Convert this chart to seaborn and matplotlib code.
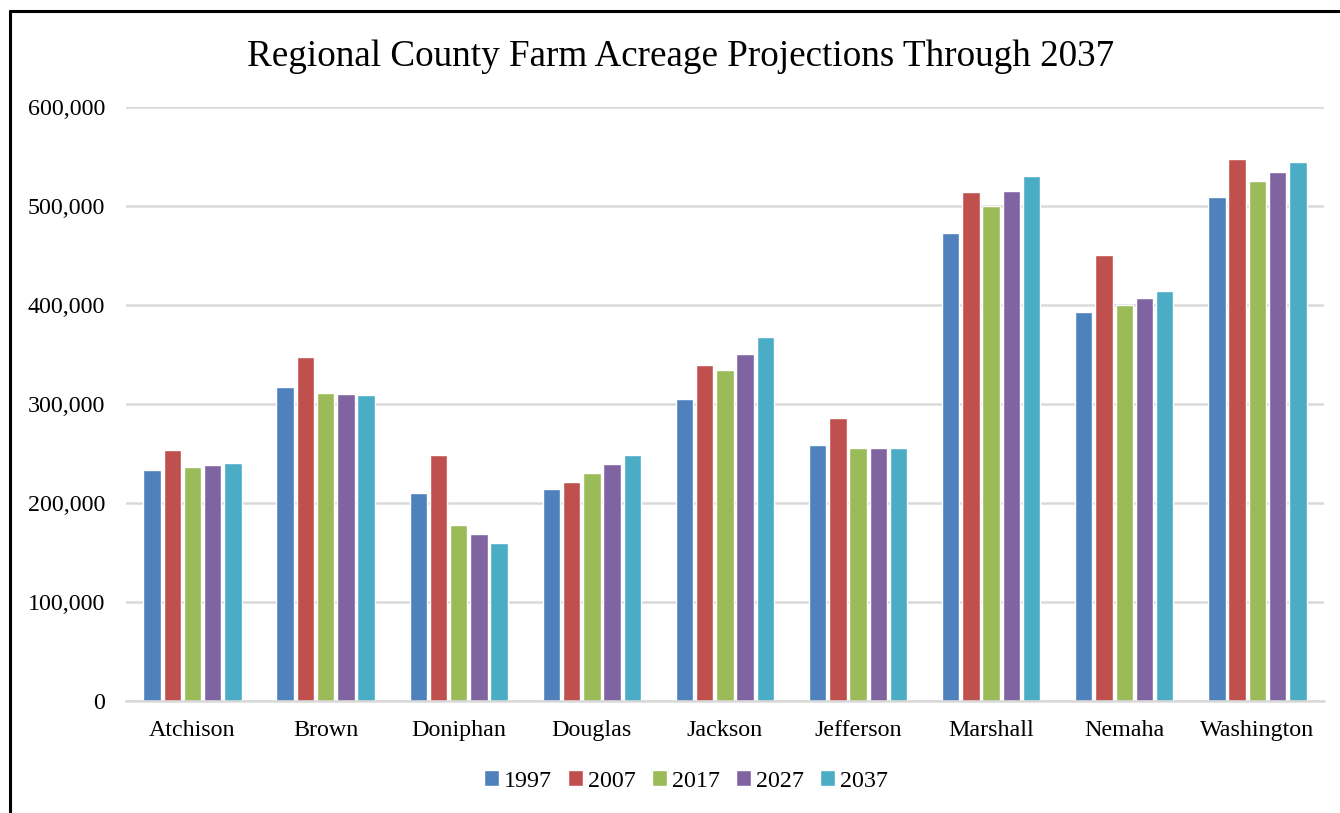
import numpy as np
import pandas as pd
import matplotlib
matplotlib.use("Agg")
import matplotlib.pyplot as plt
from matplotlib.lines import Line2D
from matplotlib.ticker import FuncFormatter
import seaborn as sns

counties = ["Atchison", "Brown", "Doniphan", "Douglas", "Jackson",
            "Jefferson", "Marshall", "Nemaha", "Washington"]
years = ["1997", "2007", "2017", "2027", "2037"]

acres_1997 = [233000, 317500, 210400, 213800, 305400, 258600, 472400, 393300, 509400]
acres_2007 = [254000, 347200, 248000, 220900, 339400, 285500, 514500, 450200, 547800]
acres_2017 = [236000, 311400, 177500, 230300, 334300, 255600, 499700, 400300, 525600]
acres_2027 = [238000, 310000, 168400, 239400, 350800, 255600, 514800, 406700, 534700]
acres_2037 = [240700, 309000, 159300, 248500, 367700, 255600, 530300, 413800, 544100]

palette = ["#4F81BD", "#C0504D", "#9BBB59", "#8064A2", "#4BACC6"]

series = [acres_1997, acres_2007, acres_2017, acres_2027, acres_2037]
df = pd.DataFrame({
    "County": counties * len(years),
    "Year": np.repeat(years, len(counties)),
    "Acres": np.concatenate(series),
})

sns.set_theme(style="white")
plt.rcParams["font.family"] = ["Liberation Serif", "DejaVu Serif"]
plt.rcParams["text.color"] = "black"
plt.rcParams["xtick.color"] = "black"
plt.rcParams["ytick.color"] = "black"

fig = plt.figure(figsize=(13.4, 8.13), dpi=100)
ax = fig.add_axes([0.094, 0.1378, 0.894, 0.7306])

sns.barplot(data=df, x="County", y="Acres", hue="Year", palette=palette,
            width=0.76, gap=0.14, ax=ax, legend=True, saturation=1)

ax.set_ylim(0, 600000)
ax.set_yticks(np.arange(0, 600001, 100000))
ax.yaxis.set_major_formatter(FuncFormatter(lambda v, _: f"{int(v):,}"))
ax.set_xlim(-0.5, len(counties) - 0.5)
ax.grid(axis="y", color="#D9D9D9", linewidth=1.8)
ax.set_axisbelow(True)
for side in ["left", "right", "top"]:
    ax.spines[side].set_visible(False)
ax.spines["bottom"].set_color("#D9D9D9")
ax.spines["bottom"].set_linewidth(1.8)
ax.tick_params(axis="y", labelsize=17.3, pad=15, length=0, labelcolor="black")
ax.tick_params(axis="x", labelsize=17.3, pad=14, length=0, labelcolor="black")
ax.set_xlabel("")
ax.set_ylabel("")

fig.text(681 / 1340, 1 - 57 / 813,
         "Regional County Farm Acreage Projections Through 2037",
         fontsize=26.7, ha="center", va="center", color="black")

handles, labels = ax.get_legend_handles_labels()
ax.legend(handles, labels, loc="center", bbox_to_anchor=(686 / 1340, 1 - 781 / 813),
          bbox_transform=fig.transFigure,
          ncol=5, frameon=False, fontsize=17.3, handlelength=0.6,
          handleheight=0.6, handletextpad=0.2, columnspacing=0.7,
          labelcolor="black")

# chart border (left and top edges visible)
fig.add_artist(Line2D([10 / 1340, 10 / 1340], [0, 1 - 11 / 813],
                      transform=fig.transFigure, color="black", linewidth=2.2))
fig.add_artist(Line2D([10 / 1340, 1.0], [1 - 11 / 813, 1 - 11 / 813],
                      transform=fig.transFigure, color="black", linewidth=2.2))

fig.savefig("out.png", dpi=100)
